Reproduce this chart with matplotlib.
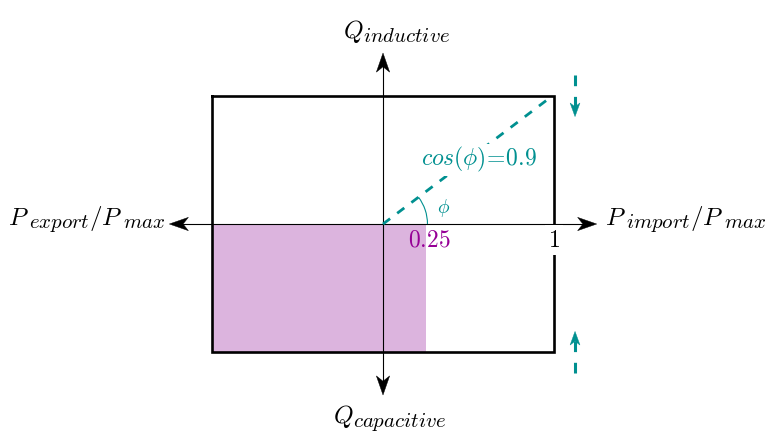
import numpy as np
import matplotlib.pyplot as plt
from matplotlib.patches import Arc, Polygon

plt.rcParams['mathtext.fontset'] = 'cm'

# operating region (P/Pmax, Q/Pmax)
rect_x = [-1, 1, 1, -1, -1]
rect_y = [0.75, 0.75, -0.75, -0.75, 0.75]
# highlighted area
fill_x = [-1, 0.25]
fill_top = 0
fill_bottom = -0.75
p_mark = 0.25
# cos(phi) line
pf_x = [0, 0.965]
pf_y = [0, 0.73]
pf_label = r'$cos(\phi)\!=\!0.9$'
# axis extents
p_axis = 1.25
q_axis = 1.0
teal = '#009090'
purple = '#960096'

base_size = 18
sub_size = 15

fig = plt.figure(figsize=(7.65, 4.34), dpi=100)
ax = fig.add_axes([0, 0, 1, 1])
ax.set_xlim(-2.24, 2.234)
ax.set_ylim(-1.228, 1.31)
ax.axis('off')
renderer = fig.canvas.get_renderer()


def sub_label(x, y, pieces, ha):
    # pieces: list of (text, is_subscript); x,y = baseline anchor in data coords
    texts = []
    widths = []
    for s, is_sub in pieces:
        t = ax.annotate('$' + s + '$', xy=(x, y), xytext=(0, 0), textcoords='offset points',
                        fontsize=sub_size if is_sub else base_size, va='baseline', ha='left')
        texts.append(t)
        widths.append(t.get_window_extent(renderer).width * 72 / fig.dpi)
    total = sum(widths)
    start = {'left': 0, 'center': -total / 2, 'right': -total}[ha]
    for t, w, (s, is_sub) in zip(texts, widths, pieces):
        t.set_position((start, -2.5 if is_sub else 0))
        start += w


def stealth(tip, d, length, width, color, z=6):
    d = np.array(d, float)
    d /= np.linalg.norm(d)
    n = np.array([-d[1], d[0]])
    tip = np.array(tip, float)
    back = tip - d * length
    pts = [tip, back + n * width / 2, tip - d * length * 0.72, back - n * width / 2]
    ax.add_patch(Polygon(pts, closed=True, facecolor=color, edgecolor=color, lw=0.3, zorder=z))


ax.fill_between(fill_x, fill_top, fill_bottom, color='#dcb4de', lw=0, zorder=1)

# axes
ax.plot([-p_axis + 0.05, p_axis - 0.05], [0, 0], color='k', lw=0.8, zorder=2)
ax.plot([0, 0], [-q_axis + 0.05, q_axis - 0.05], color='k', lw=0.8, zorder=2)
hl, hw = 0.112, 0.078
stealth((p_axis, 0), (1, 0), hl, hw, 'k')
stealth((-p_axis, 0), (-1, 0), hl, hw, 'k')
stealth((0, q_axis), (0, 1), hl, hw, 'k')
stealth((0, -q_axis), (0, -1), hl, hw, 'k')

ax.plot(rect_x, rect_y, color='k', lw=1.9, solid_joinstyle='miter', zorder=3)

ax.plot(pf_x, pf_y, color=teal, lw=2, ls=(0, (3.2, 3.2)), zorder=4)
ax.text(0.56, 0.375, pf_label, color=teal, fontsize=17, ha='center', va='center',
        bbox=dict(facecolor='white', edgecolor='none', pad=1), zorder=5)
ax.add_patch(Arc((0, 0), 0.52, 0.52, theta1=0, theta2=37, color=teal, lw=0.8, zorder=4))
ax.text(0.355, 0.095, r'$\phi$', color=teal, fontsize=14, ha='center', va='center')

ax.text(p_mark + 0.02, -0.09, '$0.25$', color=purple, fontsize=17, ha='center', va='center')
ax.text(1, -0.095, '$1$', color='k', fontsize=17, ha='center', va='center',
        bbox=dict(facecolor='white', edgecolor='none', pad=2), zorder=5)

# dashed teal arrows showing Q limits moving
for sgn in (1, -1):
    ax.plot([1.123, 1.123], [sgn * 0.871, sgn * 0.68], color=teal, lw=2.2,
            ls=(0, (3.5, 3.5)), solid_capstyle='butt', zorder=4)
    stealth((1.123, sgn * 0.628), (0, -sgn), 0.08, 0.058, teal)

sub_label(0.08, 1.085, [('Q', False), ('inductive', True)], 'center')
sub_label(0.04, -1.165, [('Q', False), ('capacitive', True)], 'center')
sub_label(-1.275, -0.005, [('P', False), ('export', True), ('/P', False), ('max', True)], 'right')
sub_label(1.3, -0.005, [('P', False), ('import', True), ('/P', False), ('max', True)], 'left')

fig.savefig('out.png', dpi=100)
